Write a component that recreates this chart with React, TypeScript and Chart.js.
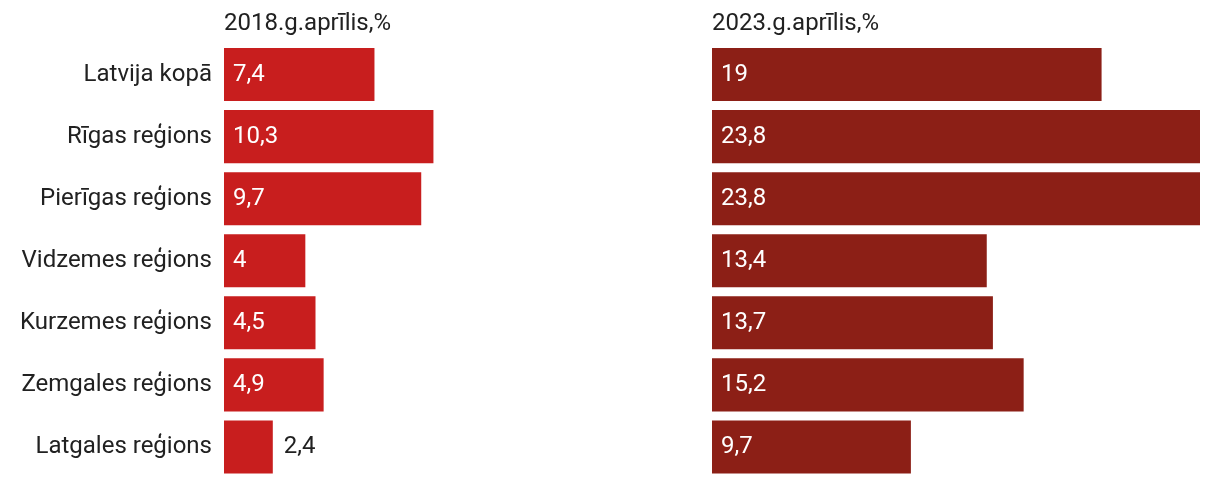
import React, { useEffect, useRef } from "react";
import { Chart, registerables } from "chart.js";

Chart.register(...registerables);

const categories = [
  "Latvija kopā",
  "Rīgas reģions",
  "Pierīgas reģions",
  "Vidzemes reģions",
  "Kurzemes reģions",
  "Zemgales reģions",
  "Latgales reģions",
];
const values2018 = [7.4, 10.3, 9.7, 4, 4.5, 4.9, 2.4];
const values2023 = [19, 23.8, 23.8, 13.4, 13.7, 15.2, 9.7];
const title2018 = "2018.g.aprīlis,%";
const title2023 = "2023.g.aprīlis,%";

const FONT = "Roboto, 'Noto Sans', sans-serif";
const TEXT = "#212121";

const fmt = (v: number) => String(v).replace(".", ",");

const valueLabels = {
  id: "valueLabels",
  afterDatasetsDraw(chart: any) {
    const ctx = chart.ctx;
    const meta = chart.getDatasetMeta(0);
    const data = chart.data.datasets[0].data as number[];
    ctx.save();
    ctx.font = `24px ${FONT}`;
    ctx.textBaseline = "middle";
    ctx.textAlign = "left";
    meta.data.forEach((bar: any, i: number) => {
      const label = fmt(data[i]);
      const w = ctx.measureText(label).width;
      const barW = bar.x - bar.base;
      if (barW > w + 20) {
        ctx.fillStyle = "#ffffff";
        ctx.fillText(label, bar.base + 9, bar.y);
      } else {
        ctx.fillStyle = TEXT;
        ctx.fillText(label, bar.x + 11, bar.y);
      }
    });
    ctx.restore();
  },
};

function makeConfig(values: number[], color: string, title: string, max: number, showLabels: boolean): any {
  return {
    type: "bar",
    data: {
      labels: categories,
      datasets: [
        {
          data: values,
          backgroundColor: color,
          borderWidth: 0,
          categoryPercentage: 1,
          barPercentage: 53 / 62,
        },
      ],
    },
    options: {
      indexAxis: "y",
      animation: false,
      responsive: true,
      maintainAspectRatio: false,
      layout: { padding: { top: 0, bottom: 6, left: 0, right: showLabels ? 0 : 12 } },
      plugins: {
        legend: { display: false },
        tooltip: { enabled: false },
        title: {
          display: true,
          text: title,
          position: "top",
          align: "start",
          fullSize: false,
          color: TEXT,
          font: { family: FONT, size: 24, weight: "normal", lineHeight: 1.2 },
          padding: { top: 1.6, bottom: 5.1 },
        },
      },
      scales: {
        x: {
          display: false,
          min: 0,
          max: max,
        },
        y: {
          display: showLabels,
          grid: { display: false, drawTicks: false },
          border: { display: false },
          ticks: {
            color: TEXT,
            padding: 12,
            font: { family: FONT, size: 24 },
          },
          afterFit: (scale: any) => {
            if (showLabels) scale.width = 216;
            scale.paddingTop = 0;
            scale.paddingBottom = 0;
          },
        },
      },
    },
    plugins: [valueLabels],
  };
}

function BarPanel(props: { values: number[]; color: string; title: string; max: number; showLabels: boolean; width: number }) {
  const ref = useRef<HTMLCanvasElement>(null);
  useEffect(() => {
    if (!ref.current) return;
    const chart = new Chart(ref.current, makeConfig(props.values, props.color, props.title, props.max, props.showLabels));
    return () => chart.destroy();
  }, []);
  return (
    <div style={{ position: "relative", width: props.width, height: 476 }}>
      <canvas ref={ref} />
    </div>
  );
}

export default function App() {
  return (
    <div style={{ display: "flex", width: 1204, height: 476 }}>
      <BarPanel values={values2018} color="#C81E1E" title={title2018} max={24} showLabels={true} width={704} />
      <BarPanel values={values2023} color="#8C1F16" title={title2023} max={23.8} showLabels={false} width={500} />
    </div>
  );
}
